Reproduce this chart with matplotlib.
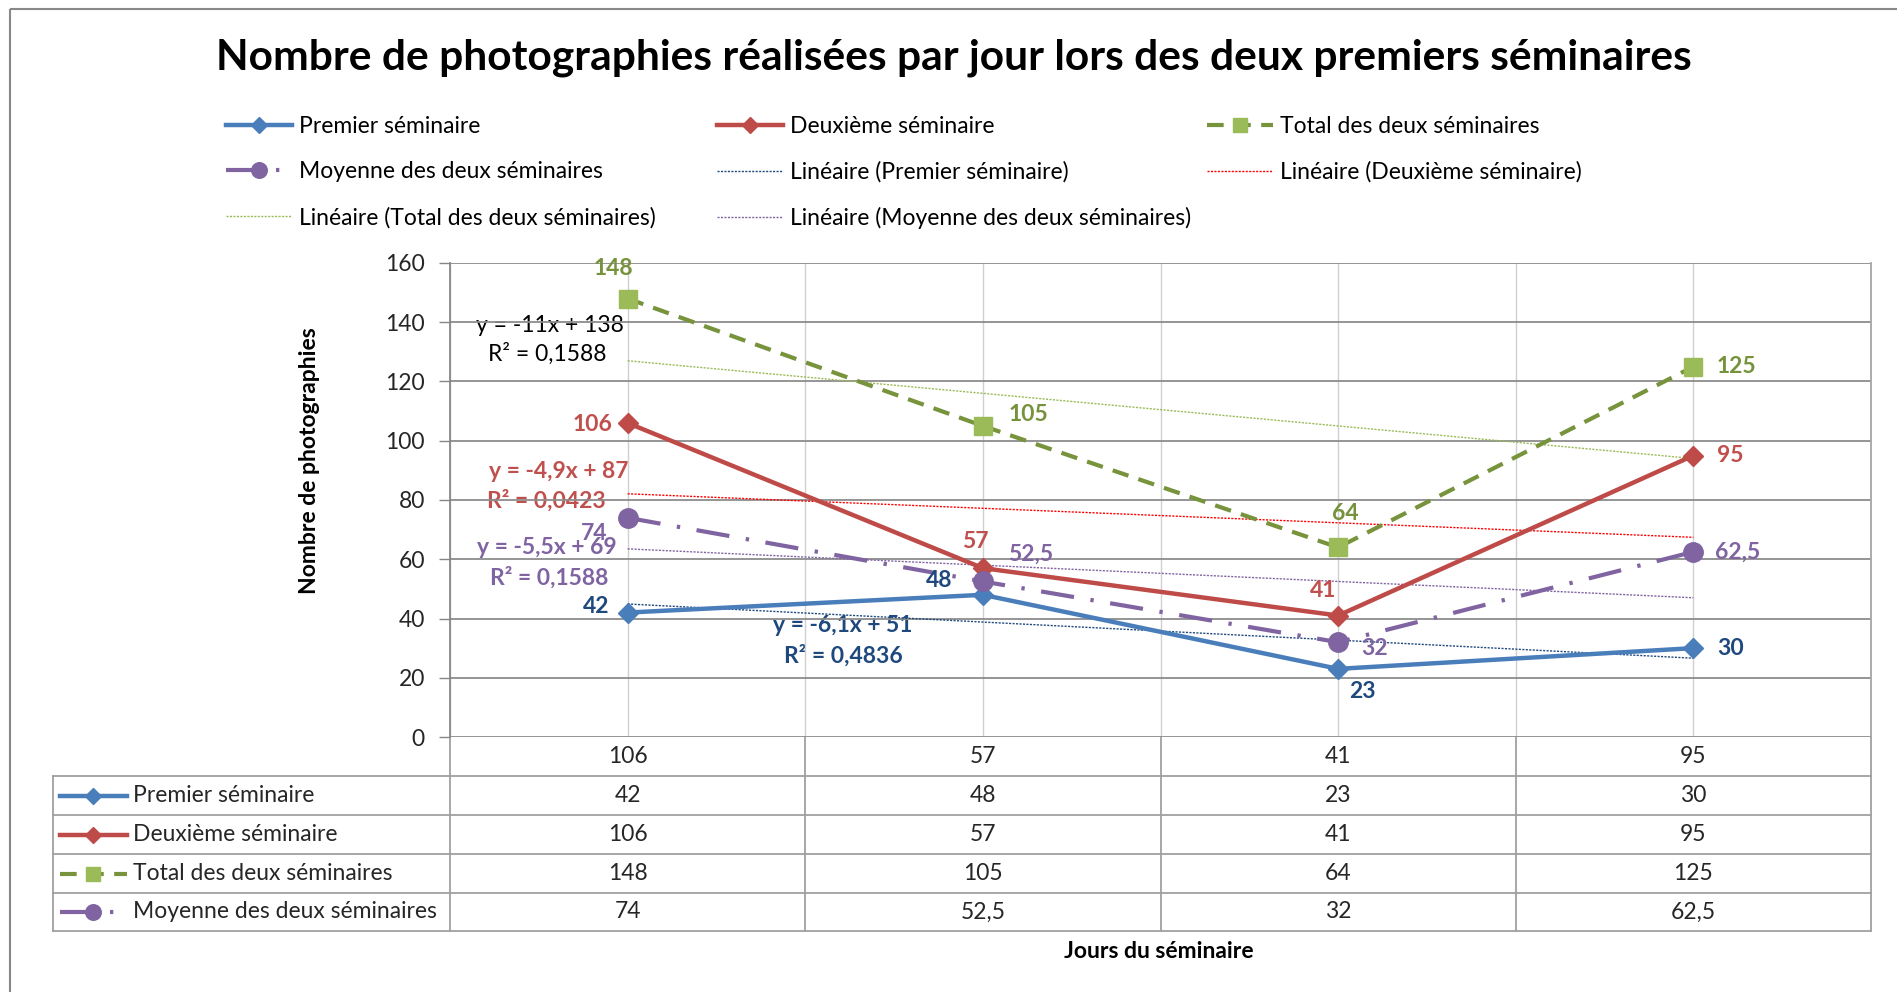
import numpy as np
import matplotlib
matplotlib.use('Agg')
import matplotlib.pyplot as plt
from matplotlib.lines import Line2D
from matplotlib.patches import Rectangle

plt.rcParams['font.family'] = ['Lato', 'DejaVu Sans']

W, H = 1897, 992

# ---------------- data ----------------
title = "Nombre de photographies réalisées par jour lors des deux premiers séminaires"
ylabel = "Nombre de photographies"
xlabel = "Jours du séminaire"
categories = ["106", "57", "41", "95"]
series_names = ["Premier séminaire", "Deuxième séminaire",
                "Total des deux séminaires", "Moyenne des deux séminaires"]
premier = [42, 48, 23, 30]
deuxieme = [106, 57, 41, 95]
total = [148, 105, 64, 125]
moyenne = [74, 52.5, 32, 62.5]
yticks = [0, 20, 40, 60, 80, 100, 120, 140, 160]
series = [premier, deuxieme, total, moyenne]

# ---------------- styles ----------------
FS = 16.5
line_styles = [
    dict(color='#4A7EBB', lw=3.2, ls='-', marker='D', ms=10, mfc='#4A7EBB', mec='#4A7EBB'),
    dict(color='#BE4B48', lw=3.2, ls='-', marker='D', ms=10, mfc='#BE4B48', mec='#BE4B48'),
    dict(color='#77933C', lw=3.0, ls=(0, (4, 2.5)), marker='s', ms=13, mfc='#9BBB59', mec='#9BBB59'),
    dict(color='#8064A2', lw=3.0, ls=(0, (8, 4, 0.8, 4)), marker='o', ms=14, mfc='#8064A2', mec='#8064A2'),
]
trend_colors = ['#1F497D', '#FF0000', '#9BBB59', '#8064A2']
label_colors = ['#1F497D', '#C0504D', '#76923C', '#8064A2']
label_offsets = [
    [(-31, 6), (-44, 14), (24, -23), (37, 0)],
    [(-35, -2), (-8, 27), (-15, 25), (37, 0)],
    [(-14, 30), (46, 11), (7, 34), (43, 0)],
    [(-34, -16), (48, 27), (36, -6), (44, 0)],
]
eq_colors = ['#1F497D', '#C0504D', '#000000', '#8064A2']
eq_weights = ['bold', 'bold', 'normal', 'bold']
eq_pos = [((843, 625), (843, 656)), ((559, 472), (546, 501)),
          ((550, 325), (547, 354)), ((547, 548), (549, 578))]


def fmt(v):
    return f"{v:g}".replace('.', ',')


fig = plt.figure(figsize=(W / 100, H / 100), dpi=100, facecolor='white')

# overlay in pixel coordinates for frame / table
ov = fig.add_axes([0, 0, 1, 1])
ov.set_xlim(0, W)
ov.set_ylim(H, 0)
ov.axis('off')
ov.add_patch(Rectangle((10, 9), W + 20, H + 20, fill=False, ec='#888888', lw=1.5, clip_on=False))

# main axes
AX_L, AX_R, AX_T, AX_B = 450, 1871, 263, 737
ax = fig.add_axes([AX_L / W, 1 - AX_B / H, (AX_R - AX_L) / W, (AX_B - AX_T) / H])
ax.set_facecolor('none')
n = len(categories)
x = np.arange(n)
ax.set_xlim(-0.5, n - 0.5)
ax.set_ylim(0, 160)
ax.set_yticks(yticks)
ax.set_yticklabels([str(t) for t in yticks])
ax.set_xticks(np.arange(-0.5, n - 0.4, 0.5))
ax.set_xticklabels([])
ax.tick_params(axis='x', length=0)
ax.tick_params(axis='y', length=8, width=1, color='#868686', pad=10, labelsize=FS, labelcolor='#262626')
ax.grid(axis='x', color='#D0D0D0', lw=1.0)
ax.grid(axis='y', color='#8C8C8C', lw=1.3)
ax.set_axisbelow(True)
for s in ['top', 'bottom']:
    ax.spines[s].set_visible(False)
ax.spines['left'].set_color('#868686')
ax.spines['left'].set_linewidth(1.3)
ax.spines['right'].set_color('#A6A6A6')
ax.spines['right'].set_linewidth(1.3)

# trendlines + series
for k, vals in enumerate(series):
    slope, icpt = np.polyfit(x + 1, vals, 1)
    ax.plot(x, slope * (x + 1) + icpt, color=trend_colors[k], lw=1.0, ls=(0, (1.5, 1)), zorder=2)
for k, vals in enumerate(series):
    st = line_styles[k]
    ax.plot(x, vals, color=st['color'], lw=st['lw'], ls=st['ls'], marker=st['marker'],
            ms=st['ms'], mfc=st['mfc'], mec=st['mec'], zorder=3 + k, clip_on=False)
    for i, v in enumerate(vals):
        ax.annotate(fmt(v), (x[i], v), xytext=label_offsets[k][i], textcoords='offset pixels',
                    ha='center', va='center', fontsize=FS, fontweight='bold',
                    color=label_colors[k], zorder=10)

# trendline equations
for k, vals in enumerate(series):
    slope, icpt = np.polyfit(x + 1, vals, 1)
    r2 = np.corrcoef(x + 1, vals)[0, 1] ** 2
    sign = '+' if icpt >= 0 else '-'
    eq = f"y = {fmt(round(slope, 4))}x {sign} {fmt(round(abs(icpt), 4))}"
    rr = f"R² = {r2:.4f}".replace('.', ',')
    (p1, p2) = eq_pos[k]
    ov.text(p1[0], p1[1], eq, ha='center', va='center', fontsize=FS,
            color=eq_colors[k], fontweight=eq_weights[k], zorder=12)
    ov.text(p2[0], p2[1], rr, ha='center', va='center', fontsize=FS,
            color=eq_colors[k], fontweight=eq_weights[k], zorder=12)

# title / axis labels
fig.text(954 / W, 1 - 58 / H, title, ha='center', va='center', fontsize=30.6, fontweight='bold')
fig.text(310 / W, 1 - 461 / H, ylabel, ha='center', va='center', rotation=90,
         fontsize=FS, fontweight='bold')
fig.text(1159 / W, 1 - 952 / H, xlabel, ha='center', va='center', fontsize=FS, fontweight='bold')

# data table
row_edges = [737, 776, 815, 854, 893, 931]
TL = 53
col_w = (AX_R - AX_L) / n
col_edges = [AX_L + i * col_w for i in range(n + 1)]
tc = '#A0A0A0'
for yy in row_edges[1:]:
    ov.plot([TL, AX_R], [yy, yy], color=tc, lw=1.3)
ov.plot([TL, TL], [row_edges[1], row_edges[-1]], color=tc, lw=1.3)
for xx in col_edges:
    ov.plot([xx, xx], [row_edges[0], row_edges[-1]], color=tc, lw=1.3)
for i, c in enumerate(categories):
    ov.text(AX_L + (i + 0.5) * col_w, (row_edges[0] + row_edges[1]) / 2, c,
            ha='center', va='center', fontsize=FS, color='#262626')
for k, vals in enumerate(series):
    yc = (row_edges[k + 1] + row_edges[k + 2]) / 2
    st = line_styles[k]
    ov.plot([60, 93, 127], [yc, yc, yc], color=st['color'], lw=st['lw'], ls=st['ls'],
            marker=st['marker'], ms=st['ms'] * 0.8, mfc=st['mfc'], mec=st['mec'], markevery=[1])
    ov.text(133, yc, series_names[k], ha='left', va='center', fontsize=FS, color='#262626')
    for i, v in enumerate(vals):
        ov.text(AX_L + (i + 0.5) * col_w, yc, fmt(v), ha='center', va='center',
                fontsize=FS, color='#262626')

# legend (row-major, 3 columns placed manually)
def series_handle(k):
    st = line_styles[k]
    return Line2D([], [], color=st['color'], lw=st['lw'], ls=st['ls'], marker=st['marker'],
                  ms=st['ms'] * 0.8, mfc=st['mfc'], mec=st['mec'])


def trend_handle(k):
    return Line2D([], [], color=trend_colors[k], lw=1.0, ls=(0, (1.5, 1)))


entries = [(series_handle(k), series_names[k]) for k in range(4)] + \
          [(trend_handle(k), f"Linéaire ({series_names[k]})") for k in range(4)]
col_x = [226, 717, 1207]
for c in range(3):
    items = entries[c::3]
    leg = fig.legend([h for h, _ in items], [t for _, t in items],
                     loc='upper left', bbox_to_anchor=(col_x[c] / W, 1 - 116 / H),
                     frameon=False, fontsize=FS, borderpad=0, borderaxespad=0,
                     handlelength=2.9, handletextpad=0.3, labelspacing=1.06, numpoints=1)

fig.savefig('out.png', dpi=100, facecolor='white')
